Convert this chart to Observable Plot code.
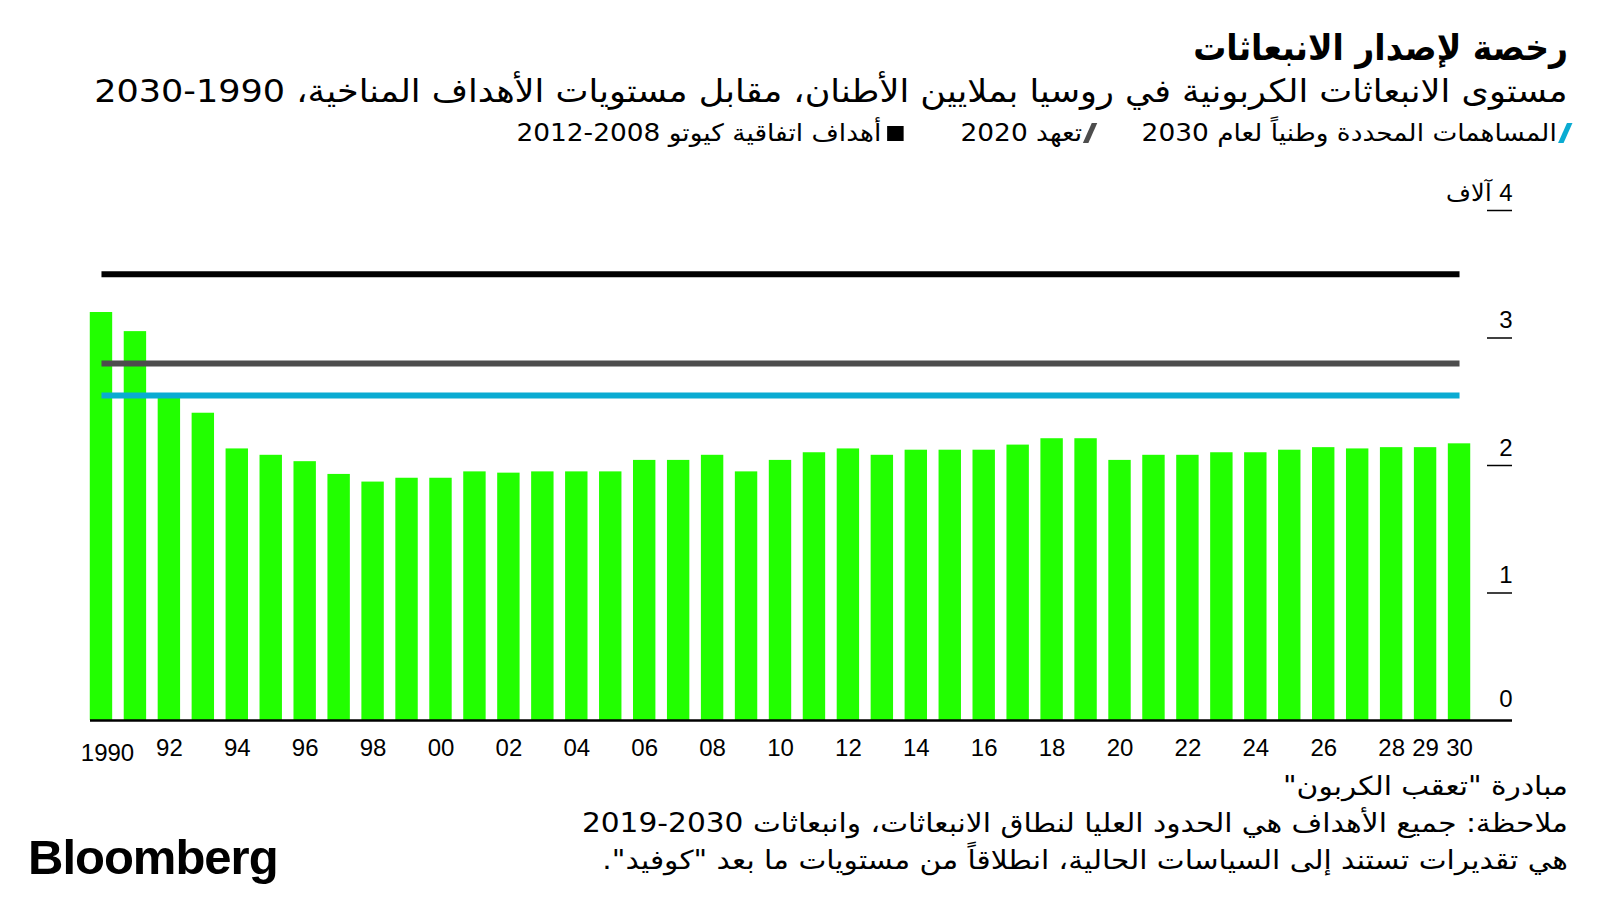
<!DOCTYPE html>
<html lang="ar">
<head>
<meta charset="utf-8">
<script src="https://cdn.jsdelivr.net/npm/d3@7"></script>
<script src="https://cdn.jsdelivr.net/npm/@observablehq/plot@0.6"></script>
<style>
  html, body { margin: 0; padding: 0; background: #fff; }
  body { width: 1600px; height: 900px; position: relative; overflow: hidden; font-family: "DejaVu Sans", sans-serif; color: #000; }
  .rtl { direction: rtl; position: absolute; right: 32px; white-space: nowrap; transform-origin: right center; }
  #title { top: 26px; font-size: 33px; font-weight: bold; line-height: 44px; transform: scaleY(1.08); }
  #subtitle { top: 70px; font-size: 32px; line-height: 42px; transform: scaleX(1.095); }
  #legend { top: 117px; font-size: 24px; line-height: 32px; display: flex; gap: 44px; transform: scaleX(1.1); }
  #legend .item { display: flex; align-items: center; gap: 5px; }
  #legend .item:nth-child(2) span:last-child { padding-left: 8px; }
  .slash { display: inline-block; width: 5px; height: 20px; transform: skewX(-22deg); }
  .sq { display: inline-block; width: 15px; height: 15px; background: #000; }
  #chart { position: absolute; left: 0; top: 160px; }
  #footer { top: 768px; font-size: 26px; line-height: 37px; text-align: right; transform: scaleX(1.14); transform-origin: right top; }
  #logo { position: absolute; left: 28px; top: 829px; font-family: "Liberation Sans", Arial, sans-serif; font-weight: bold; font-size: 49px; line-height: 56px; letter-spacing: -1px; }
</style>
</head>
<body>
<div id="title" class="rtl">رخصة لإصدار الانبعاثات</div>
<div id="subtitle" class="rtl">مستوى الانبعاثات الكربونية في روسيا بملايين الأطنان، مقابل مستويات الأهداف المناخية، 1990-2030</div>
<div id="legend" class="rtl"></div>
<div id="chart"></div>
<div id="footer" class="rtl"></div>
<div id="logo">Bloomberg</div>
<script>
// ---- data ----
const years = [1990,1991,1992,1993,1994,1995,1996,1997,1998,1999,
               2000,2001,2002,2003,2004,2005,2006,2007,2008,2009,
               2010,2011,2012,2013,2014,2015,2016,2017,2018,2019,
               2020,2021,2022,2023,2024,2025,2026,2027,2028,2029,2030];
// emissions, thousand million tonnes
const emissions = [3.20,3.05,2.54,2.41,2.13,2.08,2.03,1.93,1.87,1.90,
                   1.90,1.95,1.94,1.95,1.95,1.95,2.04,2.04,2.08,1.95,
                   2.04,2.10,2.13,2.08,2.12,2.12,2.12,2.16,2.21,2.21,
                   2.04,2.08,2.08,2.10,2.10,2.12,2.14,2.13,2.14,2.14,2.17];
const targetNames = ["المساهمات المحددة وطنياً لعام 2030", "تعهد 2020", "أهداف اتفاقية كيوتو 2008-2012"];
const targetValues = [2.55, 2.80, 3.50];
const targetColors = ["#0aabd2", "#4d4d4d", "#000000"];
const targetSpanYears = [1990, 2030];
const xTickYears = [1990,1992,1994,1996,1998,2000,2002,2004,2006,2008,2010,2012,2014,2016,2018,2020,2022,2024,2026,2028,2029,2030];
const xTickLabels = ["1990","92","94","96","98","00","02","04","06","08","10","12","14","16","18","20","22","24","26","28","29","30"];
const yTicks = [0,1,2,3,4];
const yTickLabels = ["0","1","2","3","آلاف\u200E 4"];
const footerLines = ["مبادرة \"تعقب الكربون\"",
  "ملاحظة: جميع الأهداف هي الحدود العليا لنطاق الانبعاثات، وانبعاثات 2030-2019",
  "هي تقديرات تستند إلى السياسات الحالية، انطلاقاً من مستويات ما بعد \"كوفيد\"."];

// ---- legend & footer ----
const legend = document.getElementById("legend");
targetNames.forEach((n, i) => {
  const it = document.createElement("div");
  it.className = "item";
  const sw = document.createElement("span");
  if (i === 2) { sw.className = "sq"; } else { sw.className = "slash"; sw.style.background = targetColors[i]; }
  const t = document.createElement("span");
  t.textContent = n;
  it.appendChild(sw); it.appendChild(t);
  legend.appendChild(it);
});
document.getElementById("footer").innerHTML = footerLines.map(l => `<div>${l}</div>`).join("");

// ---- chart ----
const bars = years.map((y, i) => ({year: y, value: emissions[i]}));
const targetLines = targetValues.flatMap((v, i) =>
  targetSpanYears.map(y => ({year: y, value: v, key: i})));
const xTicks = xTickYears.map((y, i) => ({year: y, label: xTickLabels[i]}));
const yTickData = yTicks.map((v, i) => ({v, label: yTickLabels[i]}));

const chart = Plot.plot({
  width: 1600,
  height: 620,
  marginTop: 50,
  marginBottom: 60,
  marginLeft: 90,
  marginRight: 88,
  style: {fontFamily: "'Liberation Sans', Arial, sans-serif", background: "transparent"},
  x: {type: "band", domain: years, range: [84, 1476], paddingInner: 0.34, paddingOuter: 0.17, axis: null},
  y: {domain: [0, 4], axis: null},
  marks: [
    Plot.barY(bars, {x: "year", y: "value", fill: "#22ff00"}),
    ...targetValues.map((v, i) =>
      Plot.lineY(targetLines.filter(d => d.key === i), {x: "year", y: "value", stroke: targetColors[i], strokeWidth: 6, strokeLinecap: "butt"})),
    Plot.ruleY([0], {stroke: "#000", strokeWidth: 2.5}),
    Plot.ruleY(yTicks.filter(t => t > 0), {insetLeft: 1397, stroke: "#000", strokeWidth: 1.5}),
    Plot.text(yTickData.filter(d => d.v > 0), {y: "v", text: "label", frameAnchor: "right", textAnchor: "end", lineAnchor: "bottom", dy: -10, fontSize: 24, fill: "#000"}),
    Plot.text(yTickData.filter(d => d.v === 0), {y: "v", text: "label", frameAnchor: "right", textAnchor: "end", lineAnchor: "bottom", dy: -14, fontSize: 24, fill: "#000"}),
    Plot.text(xTicks.filter(d => d.year !== 1990), {x: "year", y: () => 0, text: "label", dy: 28, fontSize: 24, fill: "#000"}),
    Plot.text(xTicks.filter(d => d.year === 1990), {x: "year", y: () => 0, text: "label", dy: 33, dx: 6, fontSize: 24, fill: "#000"})
  ]
});
document.getElementById("chart").appendChild(chart);
</script>
</body>
</html>
